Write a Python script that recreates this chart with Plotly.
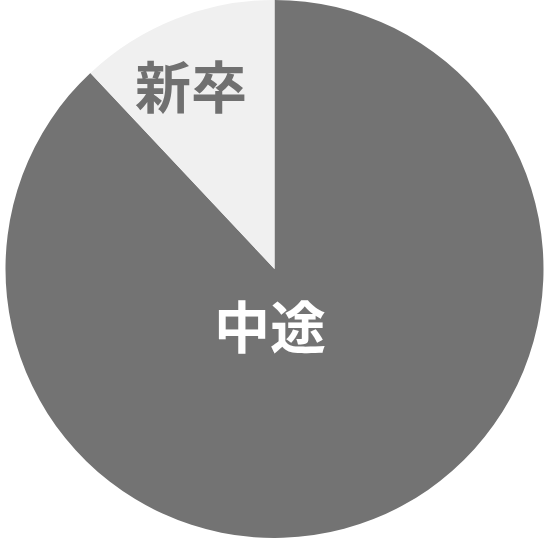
import plotly.graph_objects as go

labels = ["中途", "新卒"]
values = [88, 12]
colors = ["#737373", "#f0f0f0"]
text_colors = ["#ffffff", "#707070"]
label_pos = [(0.492, 0.398), (0.348, 0.844)]

fig = go.Figure(go.Pie(
    labels=labels,
    values=values,
    sort=False,
    direction="clockwise",
    rotation=0,
    domain=dict(x=[0, 1], y=[0, 1]),
    marker=dict(colors=colors, line=dict(width=0)),
    textinfo="none",
    hoverinfo="skip",
    showlegend=False,
))
for lab, col, (px, py) in zip(labels, text_colors, label_pos):
    fig.add_annotation(
        x=px, y=py, xref="paper", yref="paper", text=lab, showarrow=False,
        font=dict(family="Noto Sans CJK JP", size=56, color=col, weight="bold"),
        xanchor="center", yanchor="middle",
    )
fig.update_layout(
    width=549, height=538,
    margin=dict(l=0, r=0, t=0, b=0, pad=0),
    paper_bgcolor="white",
)
fig.write_html(
    "out.html",
    config={"displayModeBar": False},
    post_script="document.body.style.margin='0';document.body.style.overflow='hidden';",
)
